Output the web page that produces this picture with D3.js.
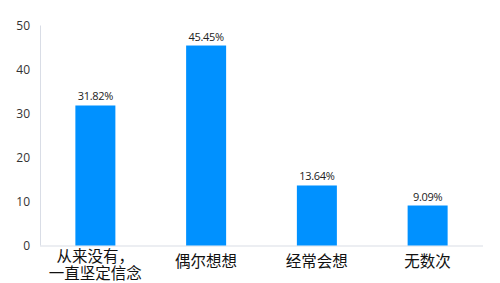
<!DOCTYPE html>
<html><head><meta charset="utf-8">
<script src="https://cdn.jsdelivr.net/npm/d3@7/dist/d3.min.js"></script>
<style>body{margin:0;background:#fff}svg{display:block}</style>
</head><body><div id="chart"></div>
<script>
const categories = [["从来没有，","一直坚定信念"],["偶尔想想"],["经常会想"],["无数次"]];
const values = [31.82, 45.45, 13.64, 9.09];
const valueLabels = ["31.82%","45.45%","13.64%","9.09%"];
const yTicks = [0,10,20,30,40,50];

const W=500,H=283;
const svg=d3.select("#chart").append("svg").attr("width",W).attr("height",H);
const x=d3.scaleBand().domain(d3.range(values.length)).range([40,483]).padding(0);
const y=d3.scaleLinear().domain([0,50]).range([245.5,25.5]);
const bw=40;

svg.append("line").attr("x1",40.5).attr("x2",40.5).attr("y1",y(50)).attr("y2",y(0)).attr("stroke","#d9dde6").attr("stroke-width",1);
svg.append("line").attr("x1",40).attr("x2",483).attr("y1",y(0)+0.5).attr("y2",y(0)+0.5).attr("stroke","#d9dde6").attr("stroke-width",1.2);

const yAxis=d3.axisLeft(y).tickValues(yTicks).tickSize(0).tickPadding(0);
const ga=svg.append("g").attr("transform","translate(30,0)").call(yAxis);
ga.select(".domain").remove();
ga.selectAll("text").attr("font-family","'Open Sans','Noto Sans',sans-serif").attr("font-size",12).attr("fill","#333");

svg.selectAll("rect.bar").data(values).enter().append("rect")
 .attr("x",(d,i)=>x(i)+x.bandwidth()/2-bw/2)
 .attr("width",bw)
 .attr("y",d=>y(d))
 .attr("height",d=>y(0)-y(d))
 .attr("fill","#0091ff");

svg.selectAll("text.val").data(values).enter().append("text")
 .attr("x",(d,i)=>x(i)+x.bandwidth()/2)
 .attr("y",d=>y(d)-5)
 .attr("text-anchor","middle")
 .attr("font-family","'Open Sans','Noto Sans',sans-serif")
 .attr("font-size",11).attr("letter-spacing","-0.3")
 .attr("fill","#222")
 .text((d,i)=>valueLabels[i]);

categories.forEach((lines,i)=>{
  const t=svg.append("text")
   .attr("text-anchor","middle")
   .attr("font-family","'Noto Sans CJK SC',sans-serif")
   .attr("font-size",15.5).attr("fill","#111");
  const cx=x(i)+x.bandwidth()/2;
  if(lines.length===1){
    t.append("tspan").attr("x",cx).attr("y",267).text(lines[0]);
  } else {
    lines.forEach((l,j)=>t.append("tspan").attr("x",cx).attr("y",262+j*16.5).text(l));
  }
});
</script></body></html>
